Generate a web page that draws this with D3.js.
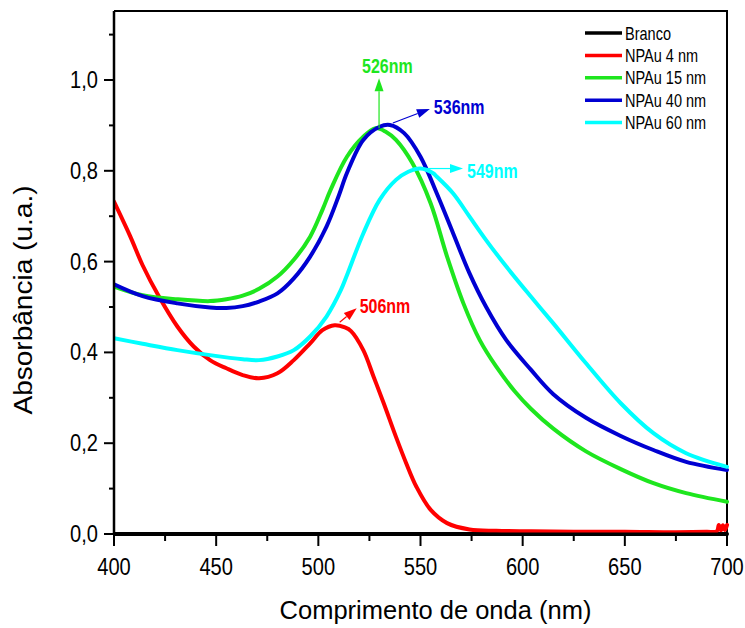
<!DOCTYPE html>
<html>
<head>
<meta charset="utf-8">
<script src="https://cdn.jsdelivr.net/npm/d3@7"></script>
<style>
  body { margin: 0; background: #ffffff; }
  svg { display: block; }
  text { font-family: "Liberation Sans", Arial, sans-serif; fill: #000; }
</style>
</head>
<body>
<svg id="chart" width="745" height="628"></svg>
<script>
// UV-Vis absorption spectra of gold nanoparticles: [wavelength (nm), absorbance]
const seriesNames  = ["Branco", "NPAu 4 nm", "NPAu 15 nm", "NPAu 40 nm", "NPAu 60 nm"];
const seriesColors = ["#000000", "#ff0000", "#1ee61e", "#0000d2", "#00ffff"];

const branco = [[400, 0], [450, 0], [500, 0], [550, 0], [600, 0], [650, 0], [700, 0]];

const npau4 = [[400,0.732],[408,0.655],[414,0.592],[422,0.523],[431,0.457],[439,0.413],[447,0.383],
  [455,0.365],[463,0.350],[471,0.343],[480,0.354],[488,0.383],[496,0.420],[502,0.449],[508,0.460],
  [513,0.455],[516,0.447],[522,0.405],[527,0.347],[532,0.288],[538,0.214],[543,0.156],[548,0.104],
  [555,0.053],[563,0.024],[574,0.010],[587,0.007],[604,0.006],[625,0.005],[650,0.005],[675,0.004],
  [690,0.005],[695,0.006],[696,0.020],[697,0.008],[698,0.019],[699,0.009],[700,0.020]];

const npau15 = [[400,0.545],[414,0.526],[431,0.517],[447,0.513],[455,0.517],[463,0.525],[471,0.540],
  [480,0.567],[488,0.604],[496,0.655],[502,0.714],[506,0.758],[514,0.831],[522,0.875],[528,0.894],
  [533,0.886],[538,0.868],[546,0.817],[555,0.728],[563,0.611],[571,0.508],[579,0.427],[587,0.369],
  [596,0.315],[604,0.276],[615,0.232],[631,0.182],[648,0.143],[664,0.112],[680,0.090],[700,0.071]];

const npau40 = [[400,0.550],[414,0.524],[431,0.508],[447,0.499],[455,0.498],[463,0.502],[471,0.512],
  [480,0.530],[488,0.563],[496,0.611],[504,0.677],[510,0.745],[514,0.795],[522,0.868],[530,0.897],
  [535,0.901],[542,0.883],[550,0.831],[558,0.750],[566,0.662],[574,0.574],[582,0.501],[592,0.427],
  [604,0.362],[615,0.308],[631,0.256],[648,0.216],[664,0.185],[680,0.159],[700,0.141]];

const npau60 = [[400,0.431],[414,0.419],[431,0.405],[447,0.394],[463,0.385],[471,0.383],[480,0.391],
  [488,0.405],[496,0.435],[504,0.479],[511,0.537],[514,0.570],[522,0.662],[530,0.736],[538,0.780],
  [544,0.798],[550,0.805],[556,0.795],[558,0.787],[566,0.750],[574,0.699],[582,0.648],[592,0.589],
  [604,0.523],[615,0.464],[631,0.376],[648,0.288],[664,0.222],[680,0.178],[700,0.148]];

const seriesData = [branco, npau4, npau15, npau40, npau60];

const xMajorTicks = [400, 450, 500, 550, 600, 650, 700];
const xMinorTicks = [425, 475, 525, 575, 625, 675];
const yMajorTicks = [0, 0.2, 0.4, 0.6, 0.8, 1.0];
const yMinorTicks = [0.1, 0.3, 0.5, 0.7, 0.9, 1.1];
const yTickLabels = ["0,0", "0,2", "0,4", "0,6", "0,8", "1,0"];

// Peak annotations: series index, label, and the wavelength window searched for the maximum
const peakSeries = [1, 2, 3, 4];
const peakLabels = ["506nm", "526nm", "536nm", "549nm"];
const peakWindows = [[480, 560], [500, 560], [500, 570], [520, 600]];

// ---- layout ----
const svg = d3.select("#chart");
const margin = { left: 114, right: 18, top: 11, bottom: 94 };
const W = 745, H = 628;
const x = d3.scaleLinear().domain([400, 700]).range([margin.left, W - margin.right]);
const y = d3.scaleLinear().domain([0, 1.152]).range([H - margin.bottom, margin.top]);
const NARROW = 0.82;

function narrowText(parent, tx, ty, str, size, anchor, weight, color) {
  const g = parent.append("g").attr("transform", `translate(${tx},${ty}) scale(${NARROW},1)`);
  g.append("text")
    .attr("font-size", size)
    .attr("text-anchor", anchor || "start")
    .attr("font-weight", weight || "normal")
    .style("fill", color || "#000")
    .text(str);
  return g;
}

svg.append("rect").attr("width", W).attr("height", H).attr("fill", "#fff");

const x0 = x.range()[0], x1 = x.range()[1];
const y0 = y.range()[0], y1 = y.range()[1];

// frame: top and right border
svg.append("path")
  .attr("d", `M${x0},${y1}H${x1}V${y0}`)
  .attr("fill", "none").attr("stroke", "#000").attr("stroke-width", 2);

// curves
svg.append("clipPath").attr("id", "plot-clip")
  .append("rect").attr("x", x0).attr("y", y1).attr("width", x1 - x0 + 2).attr("height", y0 - y1 + 2);

const line = d3.line()
  .x(d => x(d[0]))
  .y(d => y(d[1]))
  .curve(d3.curveCatmullRom.alpha(0.5));

const curves = svg.append("g").attr("clip-path", "url(#plot-clip)");
seriesData.forEach((data, i) => {
  curves.append("path")
    .datum(data)
    .attr("d", line)
    .attr("fill", "none")
    .attr("stroke", seriesColors[i])
    .attr("stroke-width", 4)
    .attr("stroke-linejoin", "round")
    .attr("stroke-linecap", "round");
});

// axes
const axes = svg.append("g").attr("stroke", "#000").attr("fill", "none");
axes.append("line").attr("x1", x0).attr("x2", x0).attr("y1", y1).attr("y2", y0 + 1).attr("stroke-width", 2.5);
axes.append("line").attr("x1", x0 - 1).attr("x2", x1).attr("y1", y0).attr("y2", y0).attr("stroke-width", 3);

xMajorTicks.forEach(v => axes.append("line").attr("x1", x(v)).attr("x2", x(v)).attr("y1", y0).attr("y2", y0 + 12).attr("stroke-width", 2));
xMinorTicks.forEach(v => axes.append("line").attr("x1", x(v)).attr("x2", x(v)).attr("y1", y0).attr("y2", y0 + 7).attr("stroke-width", 2));
yMajorTicks.forEach(v => axes.append("line").attr("x1", x0 - 10).attr("x2", x0).attr("y1", y(v)).attr("y2", y(v)).attr("stroke-width", 2));
yMinorTicks.forEach(v => axes.append("line").attr("x1", x0 - 5).attr("x2", x0).attr("y1", y(v)).attr("y2", y(v)).attr("stroke-width", 2));

// tick labels
xMajorTicks.forEach(v => narrowText(svg, x(v), y0 + 41, String(v), 24.5, "middle"));
yMajorTicks.forEach((v, i) => narrowText(svg, x0 - 16, y(v) + 8, yTickLabels[i], 24.5, "end"));

// axis titles
svg.append("text")
  .attr("x", (x0 + x1) / 2 + 15).attr("y", 619)
  .attr("font-size", 25.5).attr("text-anchor", "middle")
  .text("Comprimento de onda (nm)");

svg.append("g")
  .attr("transform", `translate(32,300) rotate(-90) scale(1.1,1)`)
  .append("text")
  .attr("font-size", 25.5).attr("text-anchor", "middle")
  .text("Absorbância (u.a.)");

// legend
const legend = svg.append("g");
seriesNames.forEach((name, i) => {
  const ly = 33 + i * 22.4;
  legend.append("line").attr("x1", 585).attr("x2", 622).attr("y1", ly).attr("y2", ly)
    .attr("stroke", seriesColors[i]).attr("stroke-width", 3.5);
  narrowText(legend, 625, ly + 6.5, name, 17.7, "start");
});

// peak arrows and labels
const arrowLayout = [
  { start: [5, -3],  tip: [22, -17], text: [25, -12] },
  { start: [3.5, 0], tip: [3.5, -50], text: [-13.5, -55] },
  { start: [3, -2],  tip: [40, -16], text: [44, -11] },
  { start: [4.5, 0], tip: [42.5, 0], text: [46.5, 9.5] }
];

function arrow(g, ax, ay, bx, by, color) {
  const dx = bx - ax, dy = by - ay, len = Math.hypot(dx, dy);
  const ux = dx / len, uy = dy / len;
  const hl = 13, hw = 4.5;
  const baseX = bx - ux * hl, baseY = by - uy * hl;
  g.append("line").attr("x1", ax).attr("y1", ay).attr("x2", baseX).attr("y2", baseY)
    .attr("stroke", color).attr("stroke-width", 1.2);
  g.append("path")
    .attr("d", `M${bx},${by}L${baseX - uy * hw},${baseY + ux * hw}L${baseX + uy * hw},${baseY - ux * hw}Z`)
    .attr("fill", color);
}

const notes = svg.append("g");
peakSeries.forEach((si, k) => {
  const data = seriesData[si];
  const win = peakWindows[k];
  const peak = d3.greatest(data.filter(d => d[0] >= win[0] && d[0] <= win[1]), d => d[1]);
  const px = x(peak[0]), py = y(peak[1]);
  const L = arrowLayout[k];
  arrow(notes, px + L.start[0], py + L.start[1], px + L.tip[0], py + L.tip[1], seriesColors[si]);
  narrowText(notes, px + L.text[0], py + L.text[1], peakLabels[k], 19.5, "start", "bold", seriesColors[si]);
});
</script>
</body>
</html>
